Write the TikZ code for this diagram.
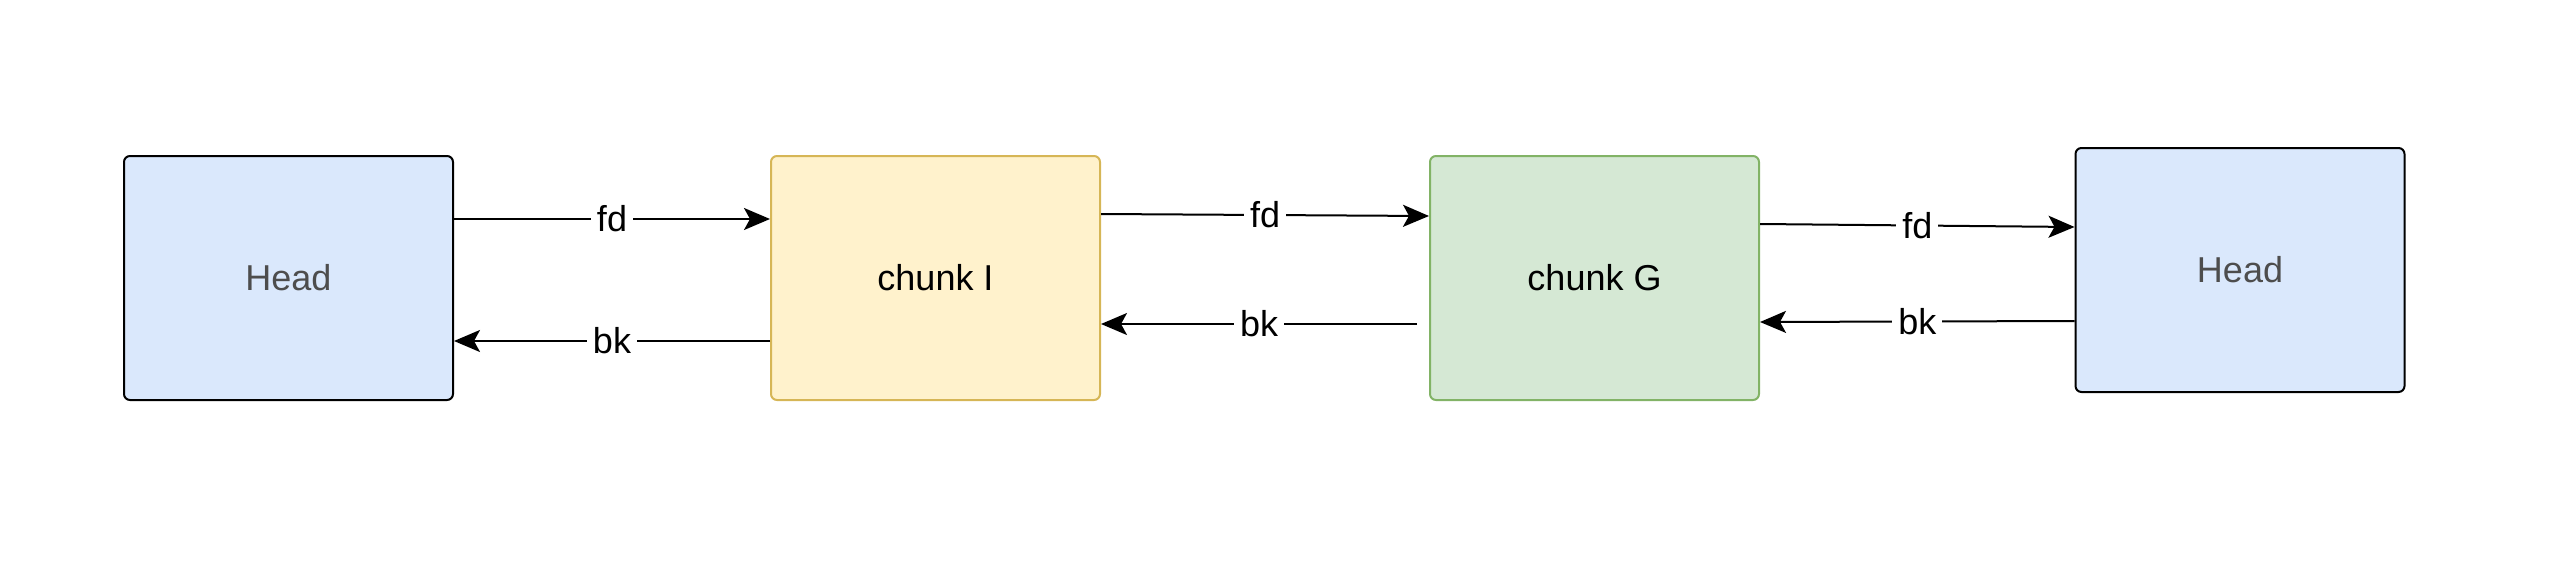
\documentclass[tikz,border=0pt]{standalone}
\usepackage{fontspec}
\setmainfont{Liberation Sans}
\usetikzlibrary{arrows.meta}
\definecolor{bluef}{HTML}{DAE8FC}
\definecolor{yelf}{HTML}{FFF2CC}
\definecolor{yeld}{HTML}{D6B656}
\definecolor{grnf}{HTML}{D5E8D4}
\definecolor{grnd}{HTML}{82B366}
\definecolor{headtxt}{HTML}{4D4D4D}
\tikzset{
  box/.style={draw, line width=2pt, rounded corners=6pt, minimum width=329pt, minimum height=244pt, inner sep=0pt, font=\fontsize{36}{40}\selectfont},
  conn/.style={line width=2pt, -{Stealth[length=26pt,width=22pt,inset=6pt]}},
  lbl/.style={fill=white, inner sep=6pt, font=\fontsize{36}{40}\selectfont}
}
\begin{document}
\begin{tikzpicture}[x=1pt,y=-1pt]
\useasboundingbox (0,0) rectangle (2570,586);
\node[box, fill=bluef, text=headtxt] (h1) at (288.5,278) {Head};
\node[box, fill=yelf, draw=yeld] (ci) at (935.5,278) {chunk I};
\node[box, fill=grnf, draw=grnd] (cg) at (1594.5,278) {chunk G};
\node[box, fill=bluef, text=headtxt] (h2) at (2240,270) {Head};
\coordinate (gb) at ([xshift=-12pt,yshift=-46pt]cg.west);
\draw[conn] ([yshift=59pt]h1.east) -- node[lbl]{fd} ([yshift=59pt]ci.west);
\draw[conn] ([yshift=-63pt]ci.west) -- node[lbl]{bk} ([yshift=-63pt]h1.east);
\draw[conn] ([yshift=64pt]ci.east) -- node[lbl]{fd} ([yshift=62pt]cg.west);
\draw[conn] (gb) -- node[lbl]{bk} ([yshift=-46pt]ci.east);
\draw[conn] ([yshift=54pt]cg.east) -- node[lbl]{fd} ([yshift=43pt]h2.west);
\draw[conn] ([yshift=-51pt]h2.west) -- node[lbl]{bk} ([yshift=-44pt]cg.east);
\end{tikzpicture}
\end{document}
